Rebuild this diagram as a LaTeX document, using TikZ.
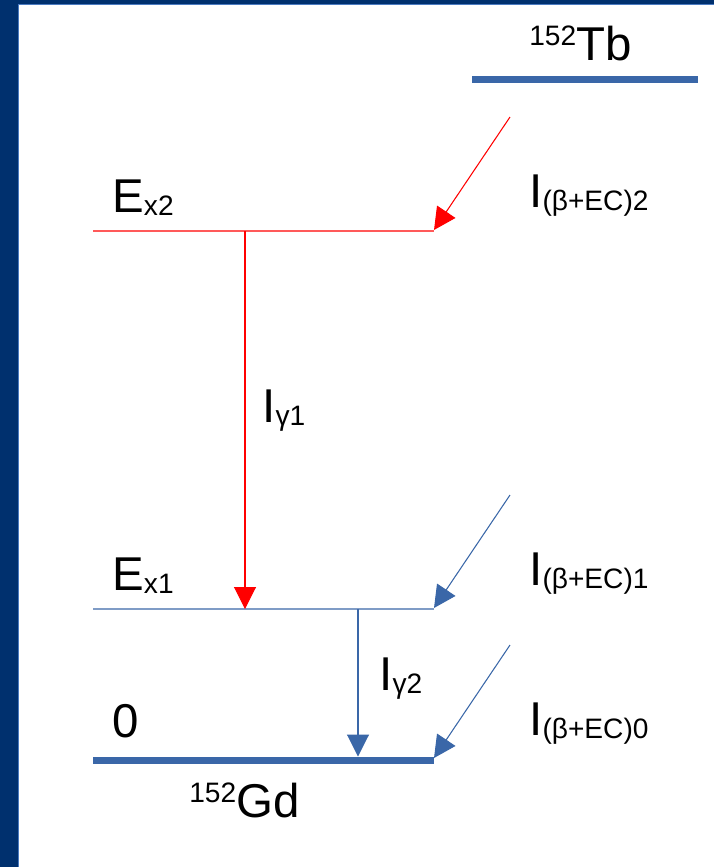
\documentclass[tikz,border=0pt]{standalone}
\usepackage{fontspec}
\setmainfont{Liberation Sans}
\usepackage{xcolor}
\usetikzlibrary{arrows.meta, positioning}
\definecolor{navy}{HTML}{00306E}
\definecolor{rim}{HTML}{4A7AC0}
\definecolor{gdblue}{HTML}{3A67A8}
\definecolor{tbred}{HTML}{FF0000}
\newcommand{\lowtxt}[1]{\raisebox{-0.06cm}{\fontsize{16}{18}\selectfont #1}}
\newcommand{\uptxt}[1]{\raisebox{0.3cm}{\fontsize{16}{18}\selectfont #1}}

\begin{document}
\begin{tikzpicture}[
  lbl/.style={anchor=base west, inner sep=0pt, font=\fontsize{27}{31}\selectfont},
  thinlevel/.style={line width=0.6pt},
  thicklevel/.style={line width=0.14cm},
  decay/.style={line width=0.6pt, -{Triangle[length=0.44cm, width=0.44cm]}}
]
% frame of the slide
\useasboundingbox (0,0) rectangle (14.28,-17.34);
\fill[white] (0,0) rectangle (14.28,-17.34);
\fill[navy] (0,0) rectangle (0.35,-17.34);
\fill[navy] (0,0) rectangle (14.28,-0.08);
\draw[rim, line width=0.5pt] (0.36,-17.34) -- (0.36,-0.09) -- (14.28,-0.09);

% parent level
\coordinate (tbL) at (9.44,-1.59);
\coordinate (tbR) at (13.96,-1.59);
\draw[gdblue, thicklevel] (tbL) -- (tbR);
\node[lbl] (tb) at (10.58,-1.2) {\uptxt{152}Tb};

% daughter levels
\coordinate (ex2L) at (1.86,-4.62);
\coordinate (ex2R) at (8.68,-4.62);
\coordinate (ex1L) at (1.86,-12.18);
\coordinate (ex1R) at (8.68,-12.18);
\coordinate (gsL) at (1.86,-15.2);
\coordinate (gsR) at (8.68,-15.2);
\draw[tbred!65, thinlevel] (ex2L) -- (ex2R);
\draw[gdblue!65, thinlevel] (ex1L) -- (ex1R);
\draw[gdblue, thicklevel] (gsL) -- (gsR);

\node[lbl] (ex2) at (2.24,-4.24) {E\lowtxt{x2}};
\node[lbl] (ex1) at (2.24,-11.8) {E\lowtxt{x1}};
\node[lbl] (gs) at (2.24,-14.74) {0};
\node[lbl] (gd) at (3.78,-16.34) {\uptxt{152}Gd};

% beta+/EC feeding
\coordinate (fd2) at (10.2,-2.34);
\coordinate (fd1) at (10.2,-9.9);
\coordinate (fd0) at (10.2,-12.9);
\draw[tbred, decay] (fd2) -- ([yshift=0.02cm]ex2R);
\draw[gdblue, decay] (fd1) -- ([yshift=0.02cm]ex1R);
\draw[gdblue, decay] (fd0) -- ([yshift=0.04cm]gsR);
\node[lbl] (ib2) at (10.58,-4.14) {I\lowtxt{(β+EC)2}};
\node[lbl] (ib1) at (10.58,-11.7) {I\lowtxt{(β+EC)1}};
\node[lbl] (ib0) at (10.58,-14.7) {I\lowtxt{(β+EC)0}};

% gamma transitions
\coordinate (g1top) at (4.9,-4.62);
\coordinate (g1bot) at (4.9,-12.18);
\coordinate (g2top) at (7.16,-12.18);
\coordinate (g2bot) at (7.16,-15.13);
\draw[tbred, decay] (g1top) -- (g1bot);
\draw[gdblue, decay] (g2top) -- (g2bot);
\node[lbl] (ig1) at (5.24,-8.44) {I\lowtxt{γ1}};
\node[lbl] (ig2) at (7.58,-13.8) {I\lowtxt{γ2}};
\end{tikzpicture}
\end{document}
